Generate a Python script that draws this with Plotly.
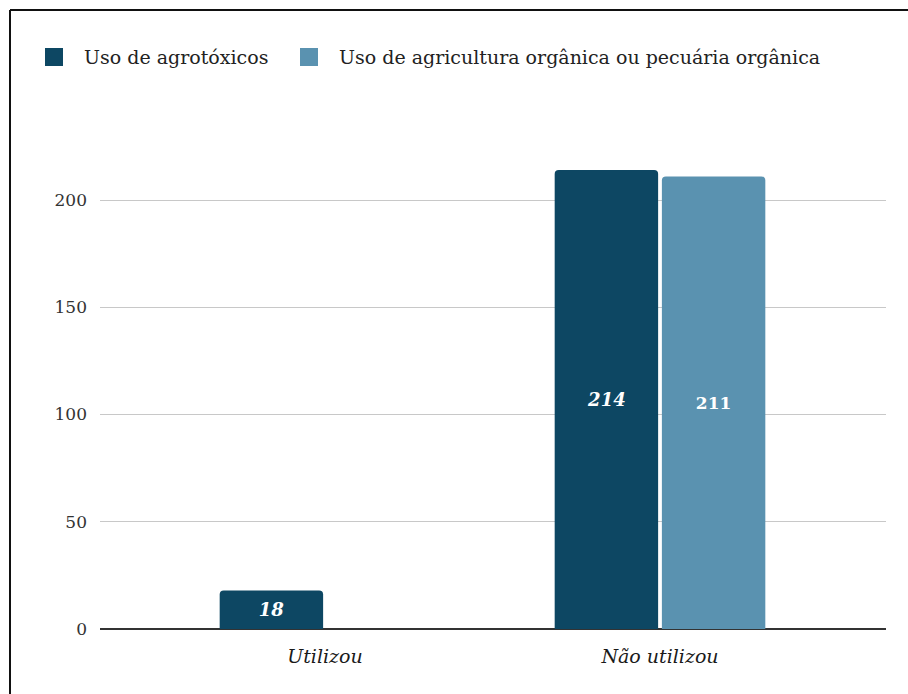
import plotly.graph_objects as go

# Survey answers: use of pesticides vs. organic farming/livestock practices
categories = ["Utilizou", "Não utilizou"]
series_names = ["Uso de agrotóxicos", "Uso de agricultura orgânica ou pecuária orgânica"]
agrotoxicos = [18, 214]
organica = [None, 211]
y_ticks = [0, 50, 100, 150, 200]

DARK = "#0D4763"
LIGHT = "#5A92B0"
FONT = "DejaVu Serif"

W, H = 908, 694
PLOT_L, PLOT_R = 100, 886      # plot area in pixels
PLOT_T, PLOT_B = 150, 629
CENTER0, CENTER1 = 325, 660    # pixel centres of the two categories

fig = go.Figure()
fig.add_trace(go.Bar(
    name=series_names[0], x=categories, y=agrotoxicos,
    marker=dict(color=DARK, line=dict(width=0), cornerradius=4),
    text=agrotoxicos, textposition="inside", insidetextanchor="middle",
    textfont=dict(family=FONT, size=18, color="white", weight="bold", style="italic"),
    hoverinfo="skip", showlegend=False,
))
fig.add_trace(go.Bar(
    name=series_names[1], x=categories, y=organica,
    marker=dict(color=LIGHT, line=dict(width=0), cornerradius=4),
    text=organica, textposition="inside", insidetextanchor="middle",
    textfont=dict(family=FONT, size=17, color="white", weight="bold"),
    hoverinfo="skip", showlegend=False,
))

# axis ranges derived from the pixel layout
unit_x = CENTER1 - CENTER0
x_range = [(PLOT_L - CENTER0) / unit_x, (PLOT_R - CENTER0) / unit_x]
px_per_y = (PLOT_B - 200) / 200.0
y_range = [0, (PLOT_B - PLOT_T) / px_per_y]

pw, ph = PLOT_R - PLOT_L, PLOT_B - PLOT_T


def px_x(v):
    return (v - PLOT_L) / pw


def px_y(v):
    return (PLOT_B - v) / ph


fig.update_layout(
    width=W, height=H,
    margin=dict(l=PLOT_L, r=W - PLOT_R, t=PLOT_T, b=H - PLOT_B, autoexpand=False),
    paper_bgcolor="white", plot_bgcolor="white",
    barmode="group", bargap=0.36, bargroupgap=0.035,
    font=dict(family=FONT, color="#222"),
)
fig.update_xaxes(
    range=x_range, showgrid=False, showline=False, zeroline=False,
    ticks="", ticklabelstandoff=14,
    tickfont=dict(family=FONT, size=19, color="#1a1a1a", style="italic"),
    fixedrange=True,
)
fig.update_yaxes(
    range=y_range, tickvals=y_ticks, ticktext=[str(v) for v in y_ticks],
    showgrid=True, gridcolor="#c8c8c8", gridwidth=1,
    zeroline=True, zerolinecolor="#333333", zerolinewidth=2,
    showline=False, ticks="", ticklabelstandoff=12,
    tickfont=dict(family=FONT, size=17, color="#333"),
    fixedrange=True,
)

# legend: square swatch + label for each series
legend_items = [(series_names[0], DARK, 45), (series_names[1], LIGHT, 300)]
for label, color, x0 in legend_items:
    fig.add_shape(
        type="rect", xref="paper", yref="paper",
        x0=px_x(x0), x1=px_x(x0 + 18), y0=px_y(66), y1=px_y(48),
        line=dict(width=0), fillcolor=color,
    )
    fig.add_annotation(
        xref="paper", yref="paper", x=px_x(x0 + 37), y=px_y(57),
        text=label, showarrow=False, xanchor="left", yanchor="middle",
        font=dict(family=FONT, size=19, color="#222"),
    )

# outer frame: left and top edges (the rest runs off the page)
frame = dict(color="#111", width=2)
fig.add_shape(type="line", xref="paper", yref="paper",
              x0=px_x(10), x1=px_x(10), y0=px_y(H + 5), y1=px_y(10), line=frame)
fig.add_shape(type="line", xref="paper", yref="paper",
              x0=px_x(10), x1=px_x(W + 5), y0=px_y(10), y1=px_y(10), line=frame)

fig.write_html("out.html", config=dict(displayModeBar=False))
